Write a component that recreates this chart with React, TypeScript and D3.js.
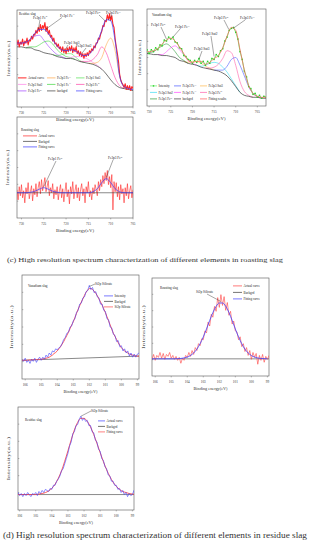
import React from 'react';
import * as d3 from 'd3';

const FONT = "'Liberation Serif', 'Times New Roman', serif";

// energy grids (eV)
const feGrid = d3.range(731, 704, -1); // 731 .. 705
const feGridV = d3.range(731, 702, -1); // 731 .. 703
const feTicks = [730, 725, 720, 715, 710, 705];
const siTicks = [106, 105, 104, 103, 102, 101, 100, 99];

// ---- Fe2p, residue slag (1 eV grid) ----
const resBackgrd = [62, 62, 61, 61, 59, 58, 56, 55, 54, 52, 51, 50, 50, 49, 47, 46, 45, 44, 42, 39, 34, 28, 23, 20, 19, 18, 17];
const resFit = [66, 66, 67, 70, 76, 80, 80, 76, 69, 63, 59, 58, 59, 58, 55, 53, 54, 59, 67, 79, 90, 89, 68, 32, 21, 19, 18];
// actual curve, from 731 eV in 0.25 eV steps
const resActual = [
  64, 69, 62, 67, 65, 70, 63, 68, 66, 71, 64, 69, 68, 73, 70, 75,
  74, 79, 76, 82, 78, 85, 79, 84, 81, 87, 78, 83, 75, 79, 72, 74,
  68, 71, 65, 66, 62, 65, 60, 62, 57, 62, 56, 60, 55, 61, 57, 62,
  58, 63, 56, 61, 57, 62, 55, 58, 53, 57, 52, 55, 50, 55, 52, 56,
  53, 58, 56, 60, 58, 63, 61, 66, 66, 71, 70, 75, 78, 84, 83, 89,
  88, 95, 90, 96, 89, 94, 85, 82, 70, 62, 55, 47, 34, 28, 25, 23,
  20, 24, 18, 22, 18, 22, 17, 21, 19,
];
// fitted peaks: height above backgrd, 1 eV steps going down from the start energy
const resFe2p1Fe2 = [2, 3, 5, 8, 14, 16, 13, 8, 4, 2, 1, 0]; // from 731
const resFe2p1Fe3 = [0, 1, 3, 6, 11, 13, 11, 7, 4, 2, 1, 0]; // from 729
const resFe2p1Sat3 = [0, 1, 3, 5, 5, 3, 1, 0]; // from 723
const resFe2p3Sat2 = [0, 1, 3, 5, 5, 4, 2, 1, 0]; // from 720
const resFe2p3Fe2 = [0, 1, 2, 5, 12, 23, 22, 15, 7, 2, 0]; // from 717
const resFe2p3Fe3 = [0, 1, 4, 12, 30, 43, 35, 12, 2, 0]; // from 715

// ---- Fe2p, vanadium slag (1 eV grid, 731..703) ----
const vanBackgrd = [54, 54, 53, 53, 52, 52, 51, 50, 47, 46, 44, 43, 42, 40, 39, 38, 37, 36, 34, 31, 26, 20, 14, 11, 10, 9, 9, 8, 8];
const vanFit = [56, 56, 57, 59, 64, 68, 70, 67, 61, 54, 47, 45, 46, 46, 43, 45, 49, 52, 60, 72, 81, 78, 58, 37, 21, 13, 10, 9, 9];
// intensity, from 731 eV in 0.5 eV steps
const vanIntensity = [
  55, 58, 54, 58, 56, 60, 58, 63, 62, 68, 67, 71, 69, 71, 66, 65, 60, 59, 52, 51,
  48, 47, 44, 47, 45, 49, 44, 46, 42, 46, 44, 49, 48, 53, 51, 57, 59, 67, 71, 78,
  80, 81, 76, 69, 56, 48, 36, 30, 20, 18, 12, 13, 9, 11, 8, 10, 9,
];
const vanFe2p1Fe2 = [0, 1, 3, 6, 10, 12, 10, 6, 3, 1, 0]; // from 731
const vanFe2p1Fe3 = [0, 1, 4, 9, 12, 11, 7, 3, 1, 0]; // from 728
const vanFe2p3Sat3 = [0, 1, 3, 4, 4, 2, 1, 0]; // from 722
const vanFe2p3Sat2 = [0, 1, 3, 6, 8, 8, 6, 4, 2, 1, 0]; // from 719
const vanFe2p3Fe2 = [0, 1, 3, 7, 15, 26, 29, 22, 11, 4, 1, 0]; // from 717
const vanFe2p3Fe3 = [0, 1, 3, 10, 22, 30, 28, 20, 10, 4, 1, 0]; // from 715

// ---- Fe2p, roasting slag ----
const roaBackgrd = [25, 25]; // at 731 and 705 eV
const roaFit = [25, 25, 25, 25.5, 26.5, 28.5, 30, 28.5, 26.5, 25.5, 25, 25, 25, 25, 25, 25, 25, 26, 29, 35, 39, 35, 29, 26, 25, 25, 25];
// actual curve, from 731 eV in 0.25 eV steps
const roaActual = [
  28, 18, 31, 22, 33, 20, 27, 15, 30, 24, 35, 19, 26, 32, 17, 29,
  23, 34, 21, 30, 36, 24, 38, 27, 33, 40, 26, 31, 37, 22, 30, 25,
  34, 19, 28, 23, 31, 18, 27, 33, 20, 29, 16, 26, 35, 21, 28, 14,
  31, 24, 36, 19, 27, 33, 20, 30, 17, 28, 34, 22, 29, 15, 31, 25,
  36, 21, 27, 18, 30, 24, 33, 28, 22, 36, 27, 38, 31, 42, 34, 45,
  37, 47, 33, 41, 30, 43, 8, 36, 26, 35, 21, 31, 18, 33, 24, 29,
  15, 30, 22, 34, 19, 27, 32, 20, 28,
];

// ---- Si2p, vanadium slag: from 106.2 eV in 0.1 eV steps ----
const siVanBackgrd = [18, 22]; // at 106.2 and 98.9 eV
const siVanFit = [
  18, 18, 18, 18, 18.2, 18.3, 18.4, 18.5, 18.6, 18.7, 18.8, 18.9, 19,
  19.3, 19.6, 20, 20.4, 21, 22, 23, 24.5, 25.5, 27,
  29, 31, 33.5, 36, 39, 42, 45, 48.5, 52, 55,
  59, 63, 67, 70.5, 74, 77, 80.5, 83.5, 85.5, 87,
  87, 86, 84.5, 82.5, 80, 77, 74, 71, 67.5, 64,
  60, 56, 52, 48, 44, 41, 38, 35, 32.5, 30,
  28.5, 27, 26, 25, 24, 23.5, 23, 22.5, 22.3, 22, 22,
];
const siVanIntensity = [
  19, 17, 20, 16, 18, 15, 19, 17, 20, 16, 19, 21, 18,
  21, 19, 23, 21, 25, 23, 27, 26, 29, 28,
  30, 31, 34, 38, 40, 44, 45, 50, 51, 56,
  58, 64, 66, 72, 73, 78, 79, 84, 85, 90,
  86, 88, 83, 84, 79, 78, 72, 72, 66, 65,
  58, 57, 50, 49, 43, 42, 36, 37, 31, 32,
  27, 29, 25, 27, 22, 25, 21, 24, 21, 24, 25,
];

// ---- Si2p, roasting slag ----
const siRoaBackgrd = [17.5, 17.5]; // at 106.2 and 98.9 eV
// fit from 106.2 eV in 0.2 eV steps
const siRoaFit = [
  17.5, 17.5, 17.5, 17.5, 17.5, 17.5, 17.5, 17.5, 17.7, 17.9, 18.4, 19.3, 20.9, 23.5, 27.4, 32.9, 39.9, 48, 56.7, 64.8,
  71.1, 74.5, 74.5, 71.1, 64.8, 56.7, 48, 39.9, 32.9, 27.4, 23.5, 20.9, 19.3, 18.4, 17.9, 17.7, 17.5,
];
// actual curve from 106.2 eV in 0.1 eV steps
const siRoaActual = [
  17, 22, 16, 21, 19, 24, 18, 23, 17, 22, 20, 24, 18,
  21, 17, 20, 16, 19, 13, 18, 16, 21, 19,
  24, 20, 26, 22, 29, 26, 33, 31, 38, 37,
  46, 44, 55, 51, 63, 60, 71, 66, 80, 70,
  83, 72, 81, 67, 75, 62, 66, 53, 56, 46,
  45, 37, 40, 30, 33, 25, 29, 21, 26, 17,
  24, 19, 23, 12, 21, 16, 22, 14, 20, 17, 21,
];

// ---- Si2p, residue slag ----
const siResBackgrd = [15, 15]; // at 106.2 and 98.8 eV
// fit from 106.2 eV in 0.2 eV steps
const siResFit = [
  15, 15, 15, 15, 15, 15, 15, 15.5, 16, 16.9, 18.5, 21, 25, 30.7, 38, 47.3, 57.5, 68, 77.7, 85,
  89, 89, 86, 80.7, 73.3, 64.7, 55.7, 47, 39, 32.6, 27, 23, 20, 18, 17, 16, 15.5, 15.2,
];
// actual curve from 106.2 eV in 0.1 eV steps
const siResActual = [
  15, 17, 14, 16, 13, 16, 14, 17, 15, 13, 16, 15, 17,
  14, 18, 16, 19, 17, 20, 19, 18, 21, 20,
  24, 24, 28, 30, 33, 38, 40, 45, 50, 55,
  62, 66, 74, 76, 82, 83, 88, 91, 87, 89,
  86, 87, 82, 82, 76, 75, 68, 66, 59, 57,
  50, 48, 42, 40, 34, 33, 28, 28, 24, 24,
  20, 21, 17, 19, 15, 17, 13, 16, 14, 15, 19, 14,
];

type Pt = [number, number];
type Frame = { id: string; x0: number; x1: number; y0: number; y1: number; dom: [number, number]; ticks: number[]; xl: number; yl: number; yoff: number };

const sx = (f: Frame) => d3.scaleLinear().domain(f.dom).range([f.x0, f.x1]);
const sy = (f: Frame) => d3.scaleLinear().domain([0, 100]).range([f.y1, f.y0]);
const seq = (start: number, step: number, vals: number[]): Pt[] => vals.map((v, i) => [start + i * step, v]);
const onBg = (grid: number[], bg: number[], start: number, vals: number[]): Pt[] => {
  const b = d3.scaleLinear().domain(grid).range(bg);
  return seq(start, -1, vals).map(([e, v]) => [e, v + b(e)]);
};

function Lbl({ x, y, t, fs = 3.4, anchor = 'start', fill = '#222' }: any) {
  const m = t.match(/^(.*Fe)([23]\+)$/);
  return (
    <text x={x} y={y} fontSize={fs} fontFamily={FONT} fill={fill} textAnchor={anchor}>
      {m ? (
        <>
          {m[1]}
          <tspan dy={-fs * 0.38} fontSize={fs * 0.65}>{m[2]}</tspan>
        </>
      ) : t}
    </text>
  );
}

function Curve({ f, pts, color, w = 0.7, smooth = false, dots = false }: any) {
  const x = sx(f);
  const y = sy(f);
  const line = d3
    .line<Pt>()
    .x((d) => x(d[0]))
    .y((d) => y(d[1]))
    .curve(smooth ? d3.curveMonotoneX : d3.curveLinear);
  return (
    <g clipPath={`url(#${f.id})`}>
      <path d={line(pts) || ''} fill="none" stroke={color} strokeWidth={w} strokeLinejoin="round" />
      {dots &&
        pts.map((d: Pt, i: number) => (
          <rect key={i} x={x(d[0]) - 0.7} y={y(d[1]) - 0.7} width={1.4} height={1.4} fill="#2ccf2c" />
        ))}
    </g>
  );
}

function Axes({ f }: { f: Frame }) {
  const x = sx(f);
  const ys = d3.range(1, 6).map((i) => f.y1 - ((f.y1 - f.y0) * i) / 6);
  return (
    <g>
      <defs>
        <clipPath id={f.id}>
          <rect x={f.x0} y={f.y0} width={f.x1 - f.x0} height={f.y1 - f.y0} />
        </clipPath>
      </defs>
      <rect x={f.x0} y={f.y0} width={f.x1 - f.x0} height={f.y1 - f.y0} fill="none" stroke="#555" strokeWidth={0.6} />
      {ys.map((yy, i) => (
        <line key={i} x1={f.x0} x2={f.x0 + 1.3} y1={yy} y2={yy} stroke="#555" strokeWidth={0.4} />
      ))}
      {f.ticks.map((t) => (
        <g key={t}>
          <line x1={x(t)} x2={x(t)} y1={f.y1} y2={f.y1 + 1.4} stroke="#555" strokeWidth={0.4} />
          <text x={x(t)} y={f.y1 + 6.5} fontSize={3.3} fontFamily={FONT} fill="#333" textAnchor="middle">
            {t}
          </text>
        </g>
      ))}
      <text
        x={(f.x0 + f.x1) / 2}
        y={f.y1 + 14}
        fontSize={4}
        fontFamily={FONT}
        fill="#333"
        textAnchor="middle"
        textLength={f.xl}
        lengthAdjust="spacingAndGlyphs"
      >
        Binding energy(eV)
      </text>
      <text
        transform={`translate(${f.x0 - f.yoff},${(f.y0 + f.y1) / 2}) rotate(-90)`}
        fontSize={3.4}
        fontFamily={FONT}
        fill="#555"
        textAnchor="middle"
        textLength={f.yl}
        lengthAdjust="spacingAndGlyphs"
      >
        Intensity(a.u.)
      </text>
    </g>
  );
}

function Legend({ items, rows, cols, len }: any) {
  return (
    <g>
      {items.map((it: any, i: number) => {
        const cx = cols[i % cols.length];
        const cy = rows[Math.floor(i / cols.length)];
        return (
          <g key={i}>
            <line x1={cx} x2={cx + len} y1={cy - 1.1} y2={cy - 1.1} stroke={it.c} strokeWidth={it.w || 0.7} />
            {it.dots && <rect x={cx + len / 2 - 0.7} y={cy - 1.8} width={1.4} height={1.4} fill="#2ccf2c" />}
            <Lbl x={cx + len + 1.5} y={cy} t={it.t} fs={3.2} />
          </g>
        );
      })}
    </g>
  );
}

function Note({ f, t, tx, ty, lx, ly, e, v }: any) {
  const x = sx(f);
  const y = sy(f);
  return (
    <g>
      <line x1={lx} y1={ly} x2={x(e)} y2={y(v)} stroke="#222" strokeWidth={0.4} />
      <Lbl x={tx} y={ty} t={t} fs={3.4} />
    </g>
  );
}

const C = {
  red: '#ff2626',
  blue: '#3a3aff',
  bg: '#3a3a3a',
  orange: '#ffa646',
  green: '#3ed63e',
  green2: '#55e055',
  pink: '#ff80e8',
  magenta: '#ff40a8',
  purple: '#a044ff',
};

export default function App() {
  const pRes: Frame = { id: 'c1', x0: 17, x1: 133, y0: 10, y1: 107, dom: [731, 705], ticks: feTicks, xl: 38, yl: 36, yoff: 7 };
  const pVan: Frame = { id: 'c2', x0: 147, x1: 266, y0: 9, y1: 106, dom: [730.5, 703], ticks: feTicks, xl: 38, yl: 36, yoff: 6 };
  const pRoa: Frame = { id: 'c3', x0: 17, x1: 133, y0: 117, y1: 218, dom: [731, 705], ticks: feTicks, xl: 38, yl: 36, yoff: 8 };
  const sVan: Frame = { id: 'c4', x0: 22, x1: 139, y0: 275, y1: 379, dom: [106.2, 98.9], ticks: siTicks, xl: 34, yl: 44, yoff: 9 };
  const sRoa: Frame = { id: 'c5', x0: 152, x1: 269, y0: 278, y1: 376, dom: [106.2, 98.9], ticks: siTicks, xl: 34, yl: 44, yoff: 7 };
  const sRes: Frame = { id: 'c6', x0: 18, x1: 134, y0: 407, y1: 510, dom: [106.1, 98.9], ticks: siTicks, xl: 34, yl: 44, yoff: 8 };

  return (
    <svg width={314} height={550} style={{ position: 'absolute', left: 0, top: 0, background: '#fff' }}>
      {/* Fe2p residue slag */}
      <Axes f={pRes} />
      <Curve f={pRes} pts={onBg(feGrid, resBackgrd, 731, resFe2p1Fe2)} color={C.purple} w={0.6} smooth />
      <Curve f={pRes} pts={onBg(feGrid, resBackgrd, 729, resFe2p1Fe3)} color={C.green} w={0.6} smooth />
      <Curve f={pRes} pts={onBg(feGrid, resBackgrd, 723, resFe2p1Sat3)} color={C.green2} w={0.6} smooth />
      <Curve f={pRes} pts={onBg(feGrid, resBackgrd, 720, resFe2p3Sat2)} color={C.pink} w={0.6} smooth />
      <Curve f={pRes} pts={onBg(feGrid, resBackgrd, 717, resFe2p3Fe2)} color={C.magenta} w={0.6} smooth />
      <Curve f={pRes} pts={onBg(feGrid, resBackgrd, 715, resFe2p3Fe3)} color={C.orange} w={0.6} smooth />
      <Curve f={pRes} pts={seq(731, -1, resBackgrd)} color={C.bg} w={0.7} smooth />
      <Curve f={pRes} pts={seq(731, -0.25, resActual)} color={C.red} w={1.1} />
      <Curve f={pRes} pts={seq(731, -1, resFit)} color={C.blue} w={0.7} smooth />
      <Lbl x={19} y={14.5} t="Residue slag" fs={3.3} />
      <Note f={pRes} t="Fe2p1 Fe2+" tx={33} ty={18.5} lx={40} ly={19.5} e={726.2} v={80} />
      <Note f={pRes} t="Fe2p1 Fe3+" tx={60} ty={16.5} lx={62} ly={17.5} e={724.6} v={80} />
      <Note f={pRes} t="Fe2p1 Sat3" tx={64} ty={44} lx={68} ly={45} e={720.2} v={59} />
      <Note f={pRes} t="Fe2p3 Sat2" tx={76} ty={47} lx={86} ly={48} e={716.5} v={55} />
      <Note f={pRes} t="Fe2p3 Fe2+" tx={86} ty={14} lx={99} ly={15} e={711.3} v={89} />
      <Note f={pRes} t="Fe2p3 Fe3+" tx={106} ty={14} lx={112} ly={15} e={710.4} v={90} />
      <Legend
        cols={[18, 47, 76]}
        rows={[79, 85.5, 92]}
        len={8.5}
        items={[
          { t: 'Actual curve', c: C.red, w: 1 },
          { t: 'Fe2p3 Fe3+', c: C.orange },
          { t: 'Fe2p1 Sat3', c: C.green2 },
          { t: 'Fe2p3 Sat2', c: C.pink },
          { t: 'Fe2p1 Fe3+', c: C.green },
          { t: 'Fe2p3 Fe2+', c: C.magenta },
          { t: 'Fe2p1 Fe2+', c: C.purple },
          { t: 'backgrd', c: C.bg },
          { t: 'Fitting curve', c: C.blue },
        ]}
      />

      {/* Fe2p vanadium slag */}
      <Axes f={pVan} />
      <Curve f={pVan} pts={onBg(feGridV, vanBackgrd, 731, vanFe2p1Fe2)} color="#2f9a3a" w={0.6} smooth />
      <Curve f={pVan} pts={onBg(feGridV, vanBackgrd, 728, vanFe2p1Fe3)} color="#ff48ff" w={0.6} smooth />
      <Curve f={pVan} pts={onBg(feGridV, vanBackgrd, 722, vanFe2p3Sat3)} color="#ffb84a" w={0.6} smooth />
      <Curve f={pVan} pts={onBg(feGridV, vanBackgrd, 719, vanFe2p3Sat2)} color="#3adcf0" w={0.6} smooth />
      <Curve f={pVan} pts={onBg(feGridV, vanBackgrd, 717, vanFe2p3Fe2)} color="#ff5ca8" w={0.6} smooth />
      <Curve f={pVan} pts={onBg(feGridV, vanBackgrd, 715, vanFe2p3Fe3)} color="#4a5aff" w={0.6} smooth />
      <Curve f={pVan} pts={seq(731, -1, vanBackgrd)} color={C.bg} w={0.7} smooth />
      <Curve f={pVan} pts={seq(731, -0.5, vanIntensity)} color="#66f066" w={0.9} dots />
      <Curve f={pVan} pts={seq(731, -1, vanFit)} color="#ff5a5a" w={0.7} smooth />
      <Lbl x={152} y={16} t="Vanadium slag" fs={3.3} />
      <Note f={pVan} t="Fe2p1 Fe2+" tx={151} ty={26} lx={161} ly={27} e={726} v={69} />
      <Note f={pVan} t="Fe2p1 Fe3+" tx={175} ty={28} lx={180} ly={29} e={724.5} v={71} />
      <Note f={pVan} t="Fe2p3 Sat3" tx={194} ty={50} lx={202} ly={51} e={718.5} v={48} />
      <Note f={pVan} t="Fe2p3 Sat2" tx={202} ty={35} lx={211} ly={36} e={715} v={51} />
      <Note f={pVan} t="Fe2p3 Fe2+" tx={214} ty={19} lx={224} ly={20} e={711.6} v={79} />
      <Note f={pVan} t="Fe2p3 Fe3+" tx={240} ty={19} lx={245} ly={20} e={710.6} v={80} />
      <Legend
        cols={[150, 174, 200]}
        rows={[87, 93.5, 100]}
        len={7}
        items={[
          { t: 'Intensity', c: '#66f066', dots: true },
          { t: 'Fe2p3 Fe3+', c: '#4a5aff' },
          { t: 'Fe2p3 Sat3', c: '#ffb84a' },
          { t: 'Fe2p3 Sat2', c: '#3adcf0' },
          { t: 'Fe2p1 Fe3+', c: '#ff48ff' },
          { t: 'Fe2p3 Fe2+', c: '#ff5ca8' },
          { t: 'Fe2p1 Fe2+', c: '#2f9a3a' },
          { t: 'backgrd', c: C.bg },
          { t: 'Fitting results', c: '#ff5a5a' },
        ]}
      />

      {/* Fe2p roasting slag */}
      <Axes f={pRoa} />
      <Curve f={pRoa} pts={seq(731, -0.25, roaActual)} color={C.red} w={0.6} />
      <Curve f={pRoa} pts={[[731, roaBackgrd[0]], [705, roaBackgrd[1]]]} color={C.bg} w={0.6} />
      <Curve f={pRoa} pts={seq(731, -1, roaFit)} color={C.blue} w={0.7} smooth />
      <Lbl x={21} y={131} t="Roasting slag" fs={3.3} />
      <Note f={pRoa} t="Fe2p1 Fe2+" tx={48} ty={160} lx={56} ly={161} e={725} v={31} />
      <Note f={pRoa} t="Fe2p3 Fe2+" tx={108} ty={159} lx={113} ly={160} e={711} v={40} />
      <Legend
        cols={[23]}
        rows={[137, 142.5, 148]}
        len={14}
        items={[
          { t: 'Actual  curve', c: C.red },
          { t: 'Backgrd', c: C.bg },
          { t: 'Fitting curve', c: C.blue },
        ]}
      />

      {/* Si2p vanadium slag */}
      <Axes f={sVan} />
      <Curve f={sVan} pts={[[106.2, siVanBackgrd[0]], [98.9, siVanBackgrd[1]]]} color={C.bg} w={0.6} />
      <Curve f={sVan} pts={seq(106.2, -0.1, siVanFit)} color="#ff4a4a" w={0.9} smooth />
      <Curve f={sVan} pts={seq(106.2, -0.1, siVanIntensity)} color="#4040ff" w={0.6} />
      <Lbl x={28} y={287} t="Vanadium slag" fs={3.3} />
      <Note f={sVan} t="Si2p Silicate" tx={95} ty={285} lx={95} ly={284} e={102.0} v={89} />
      <Legend
        cols={[104]}
        rows={[297, 302.5, 308]}
        len={9}
        items={[
          { t: 'Intensity', c: '#4040ff' },
          { t: 'Backgrd', c: C.bg },
          { t: 'Si2p Silicate', c: '#ff4a4a' },
        ]}
      />

      {/* Si2p roasting slag */}
      <Axes f={sRoa} />
      <Curve f={sRoa} pts={[[106.2, siRoaBackgrd[0]], [98.9, siRoaBackgrd[1]]]} color={C.bg} w={0.6} />
      <Curve f={sRoa} pts={seq(106.2, -0.1, siRoaActual)} color="#ff4040" w={0.6} />
      <Curve f={sRoa} pts={seq(106.2, -0.2, siRoaFit)} color="#4040ff" w={0.8} smooth />
      <Lbl x={160} y={289} t="Roasting slag" fs={3.3} />
      <Note f={sRoa} t="Si2p Silicate" tx={196} ty={293} lx={207} ly={294} e={101.9} v={76} />
      <Legend
        cols={[233]}
        rows={[287, 293.5, 300]}
        len={9}
        items={[
          { t: 'Actual curve', c: '#ff4040' },
          { t: 'Backgrd', c: C.bg },
          { t: 'Fitting curve', c: '#4040ff' },
        ]}
      />

      {/* Si2p residue slag */}
      <Axes f={sRes} />
      <Curve f={sRes} pts={[[106.2, siResBackgrd[0]], [98.8, siResBackgrd[1]]]} color={C.bg} w={0.6} />
      <Curve f={sRes} pts={seq(106.2, -0.2, siResFit)} color="#ff4a4a" w={0.9} smooth />
      <Curve f={sRes} pts={seq(106.2, -0.1, siResActual)} color="#4040ff" w={0.6} />
      <Lbl x={25} y={421} t="Residue slag" fs={3.3} />
      <Note f={sRes} t="Si2p Silicate" tx={91} ty={412} lx={91} ly={411} e={102.2} v={91} />
      <Legend
        cols={[98]}
        rows={[422, 427.5, 433]}
        len={7}
        items={[
          { t: 'Actual curve', c: '#4040ff' },
          { t: 'Backgrd', c: C.bg },
          { t: 'Fitting curve', c: '#ff4a4a' },
        ]}
      />

      <text x={7} y={262} fontSize={6.6} fontFamily={FONT} fill="#333" textLength={276} lengthAdjust="spacingAndGlyphs">
        (c) High resolution spectrum characterization of different elements in roasting slag
      </text>
      <text x={3} y={538} fontSize={7.4} fontFamily={FONT} fill="#333" textLength={304} lengthAdjust="spacingAndGlyphs">
        (d) High resolution spectrum characterization of different elements in residue slag
      </text>
    </svg>
  );
}
